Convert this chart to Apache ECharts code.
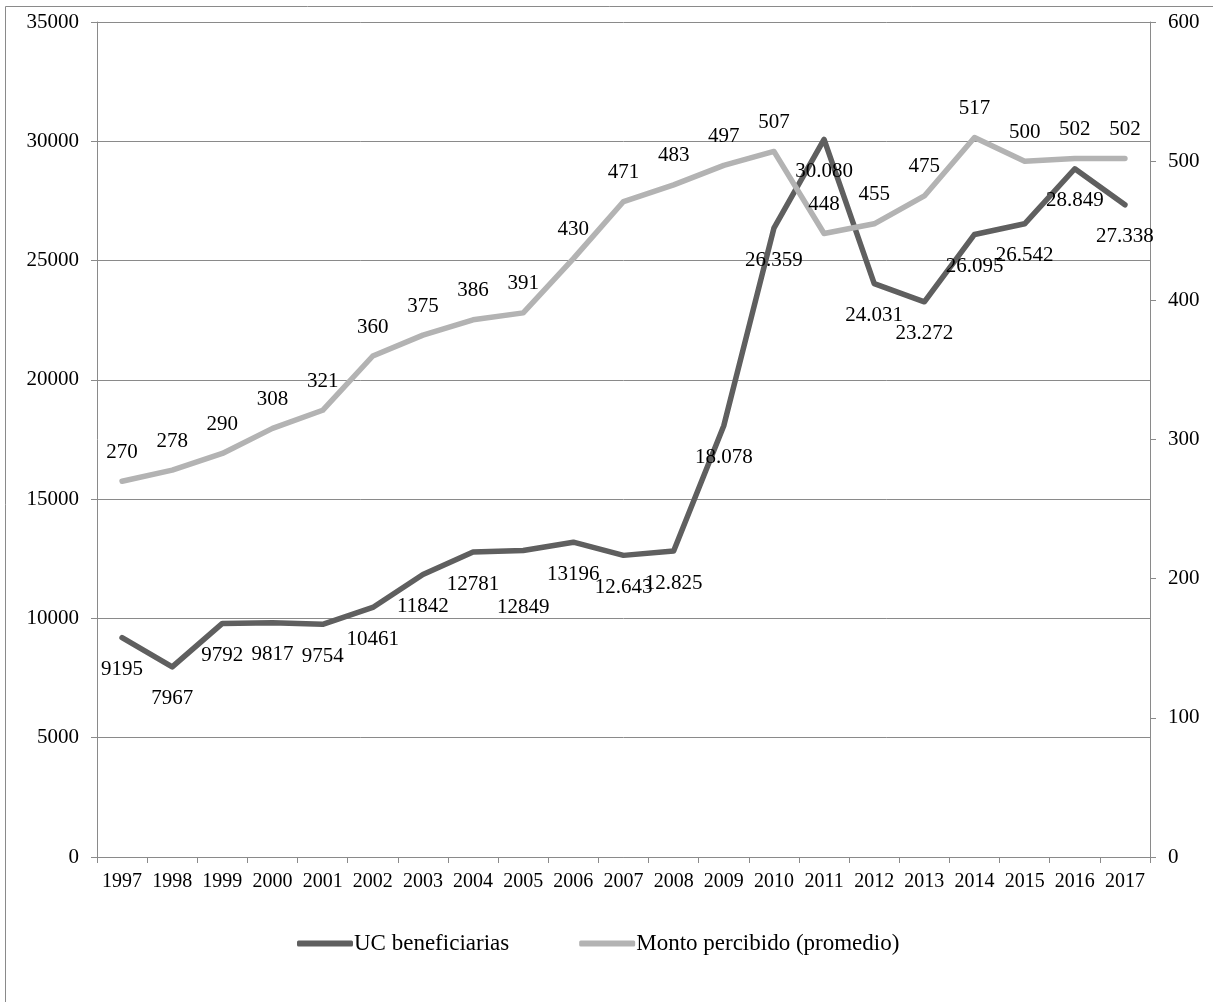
<!DOCTYPE html>
<html>
<head>
<meta charset="utf-8">
<script src="https://cdn.jsdelivr.net/npm/echarts@6/dist/echarts.min.js"></script>
<style>
html,body{margin:0;padding:0;background:#fff;}
#chart{width:1213px;height:1002px;}
</style>
</head>
<body>
<div id="chart"></div>
<script>
const years = ["1997","1998","1999","2000","2001","2002","2003","2004","2005","2006","2007","2008","2009","2010","2011","2012","2013","2014","2015","2016","2017"];
const ucBeneficiarias = [9195, 7967, 9792, 9817, 9754, 10461, 11842, 12781, 12849, 13196, 12643, 12825, 18078, 26359, 30080, 24031, 23272, 26095, 26542, 28849, 27338];
const ucLabels = ["9195","7967","9792","9817","9754","10461","11842","12781","12849","13196","12.643","12.825","18.078","26.359","30.080","24.031","23.272","26.095","26.542","28.849","27.338"];
const montoPercibido = [270, 278, 290, 308, 321, 360, 375, 386, 391, 430, 471, 483, 497, 507, 448, 455, 475, 517, 500, 502, 502];
const leftTicks = {min: 0, max: 35000, interval: 5000};
const rightTicks = {min: 0, max: 600, interval: 100};

const FONT = '"Liberation Serif", "Times New Roman", serif';
const axisGray = '#8a8a8a';

const chart = echarts.init(document.getElementById('chart'), null, {renderer: 'canvas'});

const ucData = ucBeneficiarias.map((v, i) => {
  const item = {value: v};
  if (i === 8) item.label = {offset: [0, 25]};
  return item;
});

chart.setOption({
  animation: false,
  backgroundColor: '#fff',
  graphic: [{
    type: 'rect',
    shape: {x: 5.5, y: 6.5, width: 1230, height: 1020},
    style: {fill: 'none', stroke: axisGray, lineWidth: 1},
    silent: true
  }],
  grid: {left: 97, right: 63, top: 22, bottom: 145, containLabel: false},
  legend: {
    left: 292,
    top: 927,
    itemWidth: 56,
    itemHeight: 6,
    itemGap: 70,
    icon: 'roundRect',
    textStyle: {fontFamily: FONT, fontSize: 23, color: '#000', padding: [0, 0, 0, -4]},
    data: ['UC beneficiarias', 'Monto percibido (promedio)']
  },
  xAxis: {
    type: 'category',
    data: years,
    boundaryGap: true,
    axisLine: {show: true, lineStyle: {color: axisGray, width: 1}},
    axisTick: {show: true, interval: 0, length: 6, lineStyle: {color: axisGray}},
    axisLabel: {interval: 0, margin: 15, fontFamily: FONT, fontSize: 20, color: '#000'},
    splitLine: {show: false}
  },
  yAxis: [{
    type: 'value',
    min: leftTicks.min, max: leftTicks.max, interval: leftTicks.interval,
    axisLine: {show: true, lineStyle: {color: axisGray, width: 1}},
    axisTick: {show: true, length: 6, lineStyle: {color: axisGray}},
    axisLabel: {margin: 18, fontFamily: FONT, fontSize: 21, color: '#000', formatter: v => String(v)},
    splitLine: {show: true, lineStyle: {color: axisGray, width: 1}}
  }, {
    type: 'value',
    position: 'right',
    min: rightTicks.min, max: rightTicks.max, interval: rightTicks.interval,
    axisLine: {show: true, lineStyle: {color: axisGray, width: 1}},
    axisTick: {show: true, length: 6, lineStyle: {color: axisGray}},
    axisLabel: {margin: 18, fontFamily: FONT, fontSize: 21, color: '#000', formatter: v => String(v)},
    splitLine: {show: false}
  }],
  series: [{
    name: 'UC beneficiarias',
    type: 'line',
    yAxisIndex: 0,
    data: ucData,
    symbol: 'circle',
    symbolSize: 1,
    showSymbol: true,
    itemStyle: {color: '#5f5f5f'},
    lineStyle: {color: '#5f5f5f', width: 5.5, cap: 'round', join: 'round'},
    label: {
      show: true, position: 'bottom', distance: 21,
      fontFamily: FONT, fontSize: 21, color: '#000',
      formatter: p => ucLabels[p.dataIndex]
    },
    z: 3
  }, {
    name: 'Monto percibido (promedio)',
    type: 'line',
    yAxisIndex: 1,
    data: montoPercibido,
    symbol: 'circle',
    symbolSize: 1,
    showSymbol: true,
    itemStyle: {color: '#b3b3b3'},
    lineStyle: {color: '#b3b3b3', width: 5.5, cap: 'round', join: 'round'},
    label: {
      show: true, position: 'top', distance: 18,
      fontFamily: FONT, fontSize: 21, color: '#000'
    },
    z: 4
  }]
});
</script>
</body>
</html>
